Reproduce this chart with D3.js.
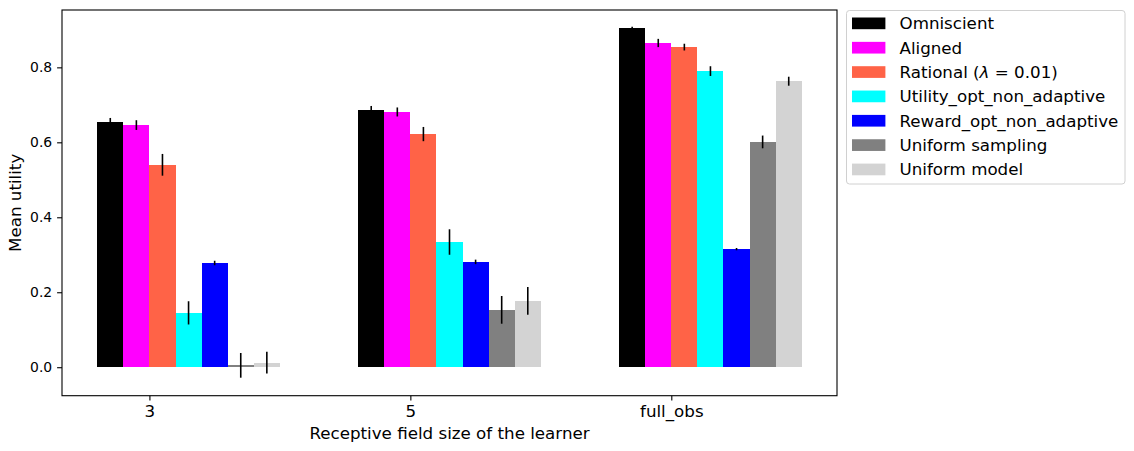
<!DOCTYPE html>
<html lang="en">
<head>
    <meta charset="UTF-8">
    <title>Mean utility</title>
    <script src="https://cdn.jsdelivr.net/npm/d3@7"></script>
    <style>
        body { margin: 0; background: #fff; }
        svg { font-family: "DejaVu Sans", sans-serif; }
    </style>
</head>
<body>
<svg width="1134" height="451"></svg>
<script>
    var groups = ['3', '5', 'full_obs'];
    var seriesNames = ['Omniscient', 'Aligned', 'Rational', 'Utility_opt_non_adaptive',
        'Reward_opt_non_adaptive', 'Uniform sampling', 'Uniform model'];
    var colors = ['#000000', '#ff00ff', '#ff6347', '#00ffff', '#0000ff', '#808080', '#d3d3d3'];
    // mean per series, one value per group
    var means = [
        [0.654, 0.686, 0.905],
        [0.646, 0.681, 0.865],
        [0.540, 0.622, 0.854],
        [0.145, 0.334, 0.790],
        [0.278, 0.281, 0.315],
        [0.005, 0.153, 0.601],
        [0.012, 0.177, 0.763]
    ];
    var errors = [
        [0.011, 0.011, 0.003],
        [0.013, 0.012, 0.011],
        [0.029, 0.019, 0.009],
        [0.031, 0.034, 0.013],
        [0.006, 0.006, 0.003],
        [0.033, 0.037, 0.017],
        [0.029, 0.037, 0.012]
    ];
    var yTicks = [0.0, 0.2, 0.4, 0.6, 0.8];

    var svg = d3.select('svg');
    var plotLeft = 62, plotRight = 837, plotTop = 10, plotBottom = 395.7;
    var barW = 0.1;

    var x = d3.scaleLinear().domain([-0.335, 2.635]).range([plotLeft, plotRight]);
    var y = d3.scaleLinear().domain([-0.076, 0.953]).range([plotBottom, plotTop]);

    var plot = svg.append('g');

    // bars
    seriesNames.forEach(function (name, i) {
        plot.append('g').selectAll('rect')
            .data(means[i])
            .enter().append('rect')
            .attr('x', function (d, g) { return x(g + (i - 2) * barW); })
            .attr('width', x(barW) - x(0))
            .attr('y', function (d) { return y(Math.max(d, 0)); })
            .attr('height', function (d) { return Math.abs(y(d) - y(0)); })
            .attr('fill', colors[i])
            .attr('shape-rendering', 'crispEdges');
    });

    // error bars
    seriesNames.forEach(function (name, i) {
        plot.append('g').selectAll('line')
            .data(means[i])
            .enter().append('line')
            .attr('x1', function (d, g) { return x(g + (i - 2) * barW + barW / 2); })
            .attr('x2', function (d, g) { return x(g + (i - 2) * barW + barW / 2); })
            .attr('y1', function (d, g) { return y(d - errors[i][g]); })
            .attr('y2', function (d, g) { return y(d + errors[i][g]); })
            .attr('stroke', '#000')
            .attr('stroke-width', 1.6);
    });

    // axes
    var yAxis = svg.append('g')
        .attr('transform', 'translate(' + plotLeft + ',0)')
        .call(d3.axisLeft(y).tickValues(yTicks).tickFormat(d3.format('.1f')).tickSize(4.9).tickPadding(4.9));
    yAxis.select('.domain').remove();
    yAxis.selectAll('text').attr('font-size', '13.9px').attr('font-family', 'DejaVu Sans').attr('fill', '#000');
    yAxis.selectAll('line').attr('stroke-width', 1.1);

    var xAxis = svg.append('g')
        .attr('transform', 'translate(0,' + plotBottom + ')')
        .call(d3.axisBottom(x).tickValues([0, 1, 2]).tickFormat(function (d) { return groups[d]; })
            .tickSize(4.9).tickPadding(4.9));
    xAxis.select('.domain').remove();
    xAxis.selectAll('text').attr('font-size', '16.7px').attr('font-family', 'DejaVu Sans').attr('fill', '#000');
    xAxis.selectAll('line').attr('stroke-width', 1.1);

    svg.append('rect')
        .attr('x', plotLeft).attr('y', plotTop)
        .attr('width', plotRight - plotLeft).attr('height', plotBottom - plotTop)
        .attr('fill', 'none').attr('stroke', '#000').attr('stroke-width', 1.1);

    svg.append('text')
        .attr('x', (plotLeft + plotRight) / 2).attr('y', 439)
        .attr('text-anchor', 'middle')
        .attr('font-size', '16.7px')
        .text('Receptive field size of the learner');

    svg.append('text')
        .attr('transform', 'translate(21,' + (plotTop + plotBottom) / 2 + ') rotate(-90)')
        .attr('text-anchor', 'middle')
        .attr('font-size', '16.7px')
        .text('Mean utility');

    // legend
    var legend = svg.append('g');
    legend.append('rect')
        .attr('x', 846.5).attr('y', 10.5)
        .attr('width', 278.5).attr('height', 173.5)
        .attr('rx', 3)
        .attr('fill', '#fff').attr('fill-opacity', 0.8)
        .attr('stroke', '#d0d0d0').attr('stroke-width', 1);

    var rows = legend.selectAll('g.row')
        .data(seriesNames)
        .enter().append('g')
        .attr('class', 'row')
        .attr('transform', function (d, i) { return 'translate(0,' + (23.3 + i * 24.35) + ')'; });
    rows.append('rect')
        .attr('x', 852).attr('y', -5.8)
        .attr('width', 33.4).attr('height', 11.7)
        .attr('fill', function (d, i) { return colors[i]; });
    var labels = rows.append('text')
        .attr('x', 899.5).attr('y', 6)
        .attr('font-size', '16.7px');
    labels.each(function (d) {
        var t = d3.select(this);
        if (d === 'Rational') {
            t.append('tspan').text('Rational (');
            t.append('tspan').attr('font-style', 'italic').text('λ');
            t.append('tspan').text(' = 0.01)');
        } else {
            t.text(d);
        }
    });
</script>
</body>
</html>
